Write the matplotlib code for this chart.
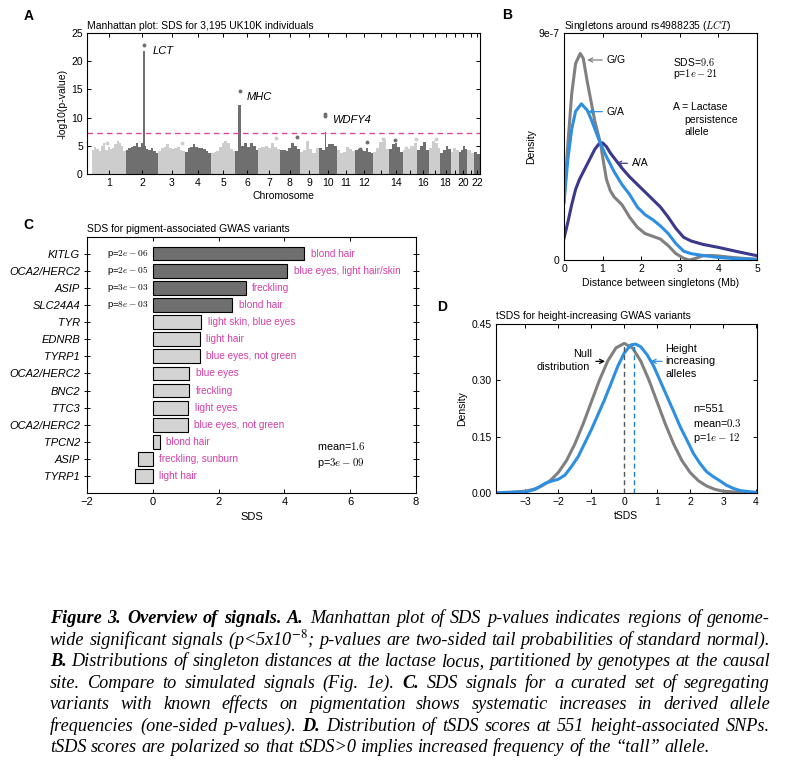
import matplotlib
matplotlib.use('Agg')
import matplotlib.pyplot as plt
import numpy as np

plt.rcParams['font.family'] = ['Liberation Sans', 'DejaVu Sans']
plt.rcParams['font.size'] = 7.5
plt.rcParams['axes.linewidth'] = 0.8
plt.rcParams['xtick.direction'] = 'in'
plt.rcParams['ytick.direction'] = 'in'
plt.rcParams['xtick.major.size'] = 3
plt.rcParams['ytick.major.size'] = 3
plt.rcParams['xtick.major.width'] = 0.7
plt.rcParams['ytick.major.width'] = 0.7
plt.rcParams['xtick.major.pad'] = 3
plt.rcParams['ytick.major.pad'] = 3

# ---------------- DATA ----------------
# Panel A: Manhattan plot
chrom_len_mb = [249.25, 243.2, 198.0, 191.15, 180.9, 171.1, 159.1, 146.4, 141.2, 135.5, 135.0,
                133.85, 115.2, 107.35, 102.5, 90.35, 81.2, 78.1, 59.1, 63.0, 48.1, 51.3]
chrom_tick_labels = ['1', '2', '3', '4', '5', '6', '7', '8', '9', '10', '11', '12', '', '14', '',
                     '16', '', '18', '', '20', '', '22']
chrom_env = [
    [4.3, 4.8, 4.4, 4.0, 4.9, 5.4, 4.3, 4.8, 4.4, 4.6, 5.2, 5.8, 5.5, 4.9, 4.0],
    [4.3, 4.6, 4.8, 5.0, 5.4, 4.8, 5.5, 5.0, 4.4, 4.2, 4.5, 4.0, 3.7],
    [4.0, 4.5, 4.8, 5.3, 4.6, 4.4, 4.5, 4.8, 4.2, 4.0],
    [3.9, 4.5, 4.8, 5.2, 4.8, 4.6, 4.6, 4.4, 4.0, 3.7],
    [3.7, 3.8, 4.0, 4.8, 5.5, 5.8, 5.5, 4.4, 4.0],
    [4.0, 4.6, 5.0, 5.5, 4.8, 5.5, 5.0, 4.3],
    [4.6, 4.8, 5.0, 4.6, 5.5, 4.8, 4.4],
    [4.3, 4.2, 4.0, 4.6, 5.5, 4.9, 4.4],
    [3.8, 4.2, 5.8, 4.4, 3.6, 4.6],
    [4.5, 4.2, 4.8, 5.2, 5.2, 5.0],
    [4.2, 3.7, 3.8, 4.7, 4.4, 4.0],
    [4.2, 4.4, 4.2, 4.0, 4.5, 3.9, 3.7],
    [3.8, 4.6, 5.6, 6.2, 4.4],
    [4.4, 5.2, 5.5, 4.8, 3.9],
    [4.2, 4.4, 5.0, 5.4],
    [4.2, 5.0, 5.6, 4.3],
    [4.6, 5.8, 5.4, 4.6],
    [3.6, 4.2, 4.9, 4.4],
    [3.8, 4.6, 4.2],
    [3.9, 4.3, 5.0, 4.4],
    [4.2, 3.6],
    [3.8, 3.5],
]
spike_chrom = [2, 6, 10]
spike_pos_mb = [136.6, 31.5, 50.0]
spike_top = [21.8, 12.3, 7.4]
spike_width_mb = [20, 24, 12]
spike_gene = ['LCT', 'MHC', 'WDFY4']
lead_chrom = [2, 6, 10, 10]
lead_pos_mb = [136.6, 31.5, 50.0, 50.0]
lead_val = [23.0, 14.8, 10.6, 10.2]
dot_chrom = [1, 3, 7, 8, 12, 12, 13, 14, 15, 15, 17]
dot_pos_mb = [112, 174, 132, 127, 35, 91, 71, 48, 20, 97, 49]
dot_val = [5.4, 5.5, 6.3, 6.5, 4.4, 5.7, 6.1, 6.0, 4.6, 6.2, 6.2]
gws_threshold = 7.3

# Panel B: singleton distance densities (x1e-7)
gg_x = [0, 0.1, 0.2, 0.3, 0.42, 0.5, 0.6, 0.7, 0.8, 0.9, 0.95, 1.0, 1.1, 1.2, 1.3, 1.5, 1.7, 1.9,
        2.1, 2.3, 2.5, 2.7, 2.9, 3.1, 3.25, 3.4, 3.6, 3.8, 4.0, 4.3, 4.6, 5.0]
gg_y = [2.3, 4.6, 6.6, 7.8, 8.2, 8.0, 7.1, 6.3, 5.5, 4.9, 4.6, 4.1, 3.2, 2.75, 2.5, 2.2, 1.7, 1.3,
        1.05, 0.94, 0.83, 0.57, 0.25, 0.07, 0.0, 0.06, 0.17, 0.18, 0.16, 0.11, 0.07, 0.03]
ga_x = [0, 0.1, 0.2, 0.3, 0.45, 0.6, 0.7, 0.8, 0.95, 1.1, 1.3, 1.5, 1.7, 1.9, 2.1, 2.3, 2.5, 2.7,
        2.9, 3.1, 3.3, 3.6, 4.0, 4.5, 5.0]
ga_y = [2.3, 4.0, 5.2, 5.9, 6.2, 5.95, 5.6, 5.2, 4.6, 4.1, 3.5, 3.0, 2.6, 2.1, 1.8, 1.6, 1.35, 1.05,
        0.65, 0.35, 0.25, 0.18, 0.1, 0.05, 0.02]
aa_x = [0, 0.1, 0.2, 0.3, 0.4, 0.5, 0.6, 0.7, 0.8, 0.9, 1.0, 1.1, 1.2, 1.3, 1.4, 1.5, 1.7, 1.9,
        2.1, 2.3, 2.5, 2.7, 2.9, 3.1, 3.3, 3.6, 4.0, 4.5, 5.0]
aa_y = [0.85, 1.5, 2.2, 2.8, 3.2, 3.5, 3.8, 4.1, 4.4, 4.6, 4.65, 4.5, 4.25, 4.05, 3.85, 3.65, 3.3,
        3.0, 2.7, 2.4, 2.1, 1.7, 1.25, 0.9, 0.75, 0.62, 0.5, 0.33, 0.17]

# Panel C: pigmentation SDS
genes = ['KITLG', 'OCA2/HERC2', 'ASIP', 'SLC24A4', 'TYR', 'EDNRB', 'TYRP1', 'OCA2/HERC2', 'BNC2',
         'TTC3', 'OCA2/HERC2', 'TPCN2', 'ASIP', 'TYRP1']
sds = [4.60, 4.09, 2.82, 2.42, 1.47, 1.43, 1.42, 1.10, 1.10, 1.07, 1.06, 0.21, -0.45, -0.54]
traits = ['blond hair', 'blue eyes, light hair/skin', 'freckling', 'blond hair',
          'light skin, blue eyes', 'light hair', 'blue eyes, not green', 'blue eyes', 'freckling',
          'light eyes', 'blue eyes, not green', 'blond hair', 'freckling, sunburn', 'light hair']
pvals_c = ['2e-06', '2e-05', '3e-03', '8e-03', '', '', '', '', '', '', '', '', '', '']

# Panel D: tSDS densities
null_x = [-3.9, -3.5, -3.0, -2.75, -2.5, -2.25, -2.0, -1.75, -1.5, -1.25, -1.0, -0.75, -0.5, -0.25,
          0.0, 0.25, 0.5, 0.75, 1.0, 1.25, 1.5, 1.75, 2.0, 2.25, 2.5, 2.75, 3.0, 3.5, 4.0]
null_y = [0.000, 0.001, 0.004, 0.009, 0.018, 0.032, 0.054, 0.086, 0.130, 0.183, 0.242, 0.301,
          0.352, 0.387, 0.399, 0.387, 0.352, 0.301, 0.242, 0.183, 0.130, 0.086, 0.054, 0.032,
          0.018, 0.009, 0.004, 0.001, 0.000]
height_x = [-3.9, -3.0, -2.7, -2.4, -2.2, -2.0, -1.8, -1.6, -1.4, -1.2, -1.0, -0.8, -0.6, -0.4,
            -0.2, 0.0, 0.2, 0.35, 0.5, 0.7, 0.9, 1.1, 1.3, 1.5, 1.7, 1.9, 2.1, 2.3, 2.5, 2.7, 2.9,
            3.1, 3.3, 3.5, 3.75, 4.0]
height_y = [0.000, 0.002, 0.009, 0.025, 0.031, 0.036, 0.047, 0.070, 0.096, 0.132, 0.168, 0.208,
            0.248, 0.292, 0.337, 0.373, 0.395, 0.397, 0.390, 0.368, 0.337, 0.297, 0.257, 0.217,
            0.176, 0.141, 0.105, 0.078, 0.056, 0.043, 0.032, 0.020, 0.012, 0.006, 0.003, 0.001]
null_mean = 0.0
height_mean = 0.3
dash_top = 0.395

# Caption
caption_lines = [
    [('Figure 3. Overview of signals.', True), ('A.', True),
     ('Manhattan plot of SDS p-values indicates regions of genome-', False)],
    [('wide significant signals (p<5x10$^{-8}$; p-values are two-sided tail probabilities of standard normal).', False)],
    [('B.', True), ('Distributions of singleton distances at the lactase locus, partitioned by genotypes at the causal', False)],
    [('site. Compare to simulated signals (Fig. 1e).', False), ('C.', True),
     ('SDS signals for a curated set of segregating', False)],
    [('variants with known effects on pigmentation shows systematic increases in derived allele', False)],
    [('frequencies (one-sided p-values).', False), ('D.', True),
     ('Distribution of tSDS scores at 551 height-associated SNPs.', False)],
    [('tSDS scores are polarized so that tSDS>0 implies increased frequency of the \u201ctall\u201d allele.', False)],
]
caption_baseline_px = [623, 645, 666, 688, 709, 731, 752]

# ---------------- FIGURE ----------------
W, H = 789, 767
fig = plt.figure(figsize=(W / 100, H / 100), dpi=100)


def ax_px(l, t, r, b):
    return fig.add_axes([l / W, 1 - b / H, (r - l) / W, (b - t) / H])


LIGHT = '#cdcdcd'
DARK = '#6f6f6f'
PINK = '#e0489c'
MAG = '#d53fa6'
GRAY = '#808080'
BLUE = '#2e8fe2'
NAVY = '#3b3a8a'

# ---- Panel A ----
axA = ax_px(87, 33.3, 480, 173.7)
starts = np.concatenate([[0], np.cumsum(chrom_len_mb)[:-1]])
centers = starts + np.array(chrom_len_mb) / 2
for i, env in enumerate(chrom_env):
    col = LIGHT if i % 2 == 0 else DARK
    n = len(env)
    w = chrom_len_mb[i] / n
    xs = starts[i] + (np.arange(n) + 0.5) * w
    axA.bar(xs, env, width=w * 1.001, color=col, linewidth=0)
for c, p, t, w in zip(spike_chrom, spike_pos_mb, spike_top, spike_width_mb):
    axA.bar(starts[c - 1] + p, t, width=w, color=DARK, linewidth=0)
for c, p, v in zip(lead_chrom, lead_pos_mb, lead_val):
    axA.plot(starts[c - 1] + p, v, 'o', ms=2.8, color=DARK, mec='none')
for c, p, v in zip(dot_chrom, dot_pos_mb, dot_val):
    col = LIGHT if (c - 1) % 2 == 0 else DARK
    axA.plot(starts[c - 1] + p, v, 'o', ms=2.8, color=col, mec='none')
axA.axhline(gws_threshold, color=PINK, lw=1.0, dashes=(4, 3))
axA.text(452, 21.9, 'LCT', style='italic', fontsize=8, va='center')
axA.text(1148, 13.7, 'MHC', style='italic', fontsize=8, va='center')
axA.text(1778, 9.6, 'WDFY4', style='italic', fontsize=8, va='center')
axA.set_xlim(-37, sum(chrom_len_mb) - 5)
axA.set_ylim(0, 25)
axA.set_xticks(centers)
axA.set_xticklabels(chrom_tick_labels)
axA.set_yticks([0, 5, 10, 15, 20, 25])
axA.tick_params(top=True, right=True)
axA.set_xlabel('Chromosome', labelpad=2)
axA.set_ylabel('-log10(p-value)', labelpad=3)
axA.set_title('Manhattan plot: SDS for 3,195 UK10K individuals', loc='left', fontsize=7.5, pad=3)

# ---- Panel B ----
axB = ax_px(564, 33.3, 757, 260)
axB.plot(gg_x, gg_y, color=GRAY, lw=2.2, solid_joinstyle='round')
axB.plot(aa_x, aa_y, color=NAVY, lw=2.2, solid_joinstyle='round')
axB.plot(ga_x, ga_y, color=BLUE, lw=2.2, solid_joinstyle='round')
axB.set_xlim(0, 5)
axB.set_ylim(0, 9)
axB.set_xticks([0, 1, 2, 3, 4, 5])
axB.set_yticks([0, 9])
axB.set_yticklabels(['0', '9e-7'])
axB.tick_params(top=True, right=True)
axB.set_xlabel('Distance between singletons (Mb)', labelpad=3)
axB.set_ylabel('Density', labelpad=2)
axB.set_title('Singletons around rs4988235 ($LCT$)', loc='left', fontsize=7.5, pad=3,
              math_fontfamily='cm')
akw = dict(arrowstyle='->', lw=0.9, shrinkA=1, shrinkB=0)
axB.annotate('G/G', xy=(0.6, 7.94), xytext=(1.1, 7.94), va='center', fontsize=7.5,
             arrowprops=dict(color=GRAY, **akw))
axB.annotate('G/A', xy=(0.62, 5.89), xytext=(1.1, 5.89), va='center', fontsize=7.5,
             arrowprops=dict(color=BLUE, **akw))
axB.annotate('A/A', xy=(1.35, 3.84), xytext=(1.75, 3.84), va='center', fontsize=7.5,
             arrowprops=dict(color=NAVY, **akw))
axB.text(2.82, 7.87, 'SDS=$9.6$', va='center', fontsize=7.5, math_fontfamily='cm')
axB.text(2.82, 7.38, 'p=$1e-21$', va='center', fontsize=7.5, math_fontfamily='cm')
axB.text(2.82, 6.06, 'A = Lactase', va='center', fontsize=7.5)
axB.text(3.11, 5.57, 'persistence', va='center', fontsize=7.5)
axB.text(3.11, 5.08, 'allele', va='center', fontsize=7.5)

# ---- Panel C ----
axC = ax_px(87, 237.3, 416, 493.3)
rows = np.arange(len(genes))
cols_c = [DARK if p else '#d3d3d3' for p in pvals_c]
axC.barh(rows, sds, height=0.8, color=cols_c, edgecolor='black', linewidth=0.8)
for r, v, tr, p in zip(rows, sds, traits, pvals_c):
    axC.text(max(v, 0) + 0.2, r, tr, color=MAG, va='center', fontsize=7.2)
    if p:
        axC.text(-0.12, r, 'p=$%s$' % p, ha='right', va='center', fontsize=6.8,
                 math_fontfamily='cm')
axC.text(5.0, 11.25, 'mean=$1.6$', va='center', fontsize=7.8, math_fontfamily='cm')
axC.text(5.0, 12.25, 'p=$3e-09$', va='center', fontsize=7.8, math_fontfamily='cm')
axC.set_xlim(-2, 8)
axC.set_ylim(14.0, -0.95)
axC.set_yticks(rows)
axC.set_yticklabels(genes, style='italic', fontsize=8)
axC.set_xticks([-2, 0, 2, 4, 6, 8])
axC.set_xticklabels(['\u22122', '0', '2', '4', '6', '8'], fontsize=8)
axC.tick_params(top=True, right=True)
axC.tick_params(axis='y', direction='inout', length=4)
axC.set_xlabel('SDS', labelpad=3, fontsize=8)
axC.set_title('SDS for pigment-associated GWAS variants', loc='left', fontsize=7.5, pad=4)

# ---- Panel D ----
axD = ax_px(495.7, 324.3, 756.7, 492.7)
axD.plot(null_x, null_y, color=GRAY, lw=2.2, solid_joinstyle='round')
axD.plot(height_x, height_y, color=BLUE, lw=2.2, solid_joinstyle='round')
axD.plot([null_mean, null_mean], [0, dash_top], color='#555555', lw=1.0, dashes=(3.5, 2.5))
axD.plot([height_mean, height_mean], [0, dash_top], color='#1f7fc4', lw=1.0, dashes=(3.5, 2.5))
axD.set_xlim(-3.9, 4.02)
axD.set_ylim(0, 0.45)
axD.set_xticks([-3, -2, -1, 0, 1, 2, 3, 4])
axD.set_xticklabels(['\u22123', '\u22122', '\u22121', '0', '1', '2', '3', '4'])
axD.set_yticks([0, 0.15, 0.30, 0.45])
axD.set_yticklabels(['0.00', '0.15', '0.30', '0.45'])
axD.tick_params(top=True, right=True)
axD.set_xlabel('tSDS', labelpad=3)
axD.set_ylabel('Density', labelpad=3)
axD.set_title('tSDS for height-increasing GWAS variants', loc='left', fontsize=7.5, pad=4)
axD.text(-0.98, 0.371, 'Null', ha='right', va='center', fontsize=7.8)
axD.text(-1.03, 0.335, 'distribution', ha='right', va='center', fontsize=7.8)
axD.annotate('', xy=(-0.58, 0.351), xytext=(-0.86, 0.351),
             arrowprops=dict(arrowstyle='->', color='black', lw=0.9, shrinkA=0, shrinkB=0))
axD.text(1.24, 0.385, 'Height', ha='left', va='center', fontsize=7.8)
axD.text(1.24, 0.351, 'increasing', ha='left', va='center', fontsize=7.8)
axD.text(1.24, 0.318, 'alleles', ha='left', va='center', fontsize=7.8)
axD.annotate('', xy=(0.8, 0.351), xytext=(1.15, 0.351),
             arrowprops=dict(arrowstyle='->', color=BLUE, lw=0.9, shrinkA=0, shrinkB=0))
axD.text(2.1, 0.225, 'n=551', va='center', fontsize=7.8)
axD.text(2.1, 0.186, 'mean=$0.3$', va='center', fontsize=7.8, math_fontfamily='cm')
axD.text(2.1, 0.147, 'p=$1e-12$', va='center', fontsize=7.8, math_fontfamily='cm')

# Panel letters
for lab, x, y in [('A', 29, 16), ('B', 507, 15), ('C', 28, 225), ('D', 442, 307)]:
    fig.text(x / W, 1 - y / H, lab, fontsize=10, fontweight='bold', ha='center', va='center')

# ---- Caption (justified) ----
renderer = fig.canvas.get_renderer()
cap_left, cap_right = 50, 770
last_line_right = 706


def cap_text(s, bold, fs, y=0.0):
    return fig.text(0, y, s, fontfamily='Liberation Serif', style='italic',
                    fontweight='bold' if bold else 'normal', fontsize=fs, va='baseline',
                    ha='left', math_fontfamily='stix')


# choose font size so that the (unjustified) last line spans the same width as in the reference
probe = cap_text(caption_lines[-1][0][0], False, 12.0)
cap_fs = 12.0 * (last_line_right - cap_left) / probe.get_window_extent(renderer).width
probe.remove()

for li, (segs, yb) in enumerate(zip(caption_lines, caption_baseline_px)):
    words = []
    for txt, bold in segs:
        for wd in txt.split(' '):
            words.append((wd, bold))
    objs = [cap_text(wd, bold, cap_fs, 1 - yb / H) for wd, bold in words]
    widths = [o.get_window_extent(renderer).width for o in objs]
    last = (li == len(caption_lines) - 1)
    if last or len(objs) < 2:
        sp = cap_text('a a', False, cap_fs)
        sp2 = cap_text('aa', False, cap_fs)
        gap = sp.get_window_extent(renderer).width - sp2.get_window_extent(renderer).width
        sp.remove(); sp2.remove()
    else:
        gap = (cap_right - cap_left - sum(widths)) / (len(objs) - 1)
    x = cap_left
    for o, w in zip(objs, widths):
        o.set_x(x / W)
        x += w + gap

fig.savefig('out.png', dpi=100)
